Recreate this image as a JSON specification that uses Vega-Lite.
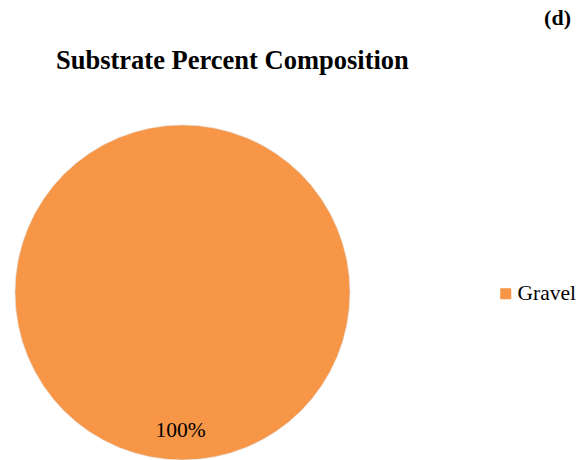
{
  "$schema": "https://vega.github.io/schema/vega-lite/v6.json",
  "background": "white",
  "padding": {"left": 13, "top": 7, "right": 5, "bottom": 0},
  "title": {
    "text": "(d)",
    "anchor": "end",
    "frame": "bounds",
    "font": "Liberation Serif",
    "fontSize": 22,
    "fontWeight": "bold",
    "color": "black",
    "dx": -5,
    "offset": 18
  },
  "config": {
    "view": {"stroke": null},
    "font": "Liberation Serif"
  },
  "vconcat": [
    {
      "width": 335,
      "height": 335,
      "title": {
        "text": "Substrate Percent Composition",
        "anchor": "start",
        "frame": "group",
        "dx": 41,
        "offset": 49,
        "font": "Liberation Serif",
        "fontSize": 26.5,
        "fontWeight": "bold",
        "color": "black"
      },
      "data": {"values": [{"substrate": "Gravel", "percent": 100, "label": "100%"}]},
      "layer": [
        {
          "mark": {"type": "arc", "stroke": "#e0e0e0", "strokeWidth": 0.6},
          "encoding": {
            "theta": {"field": "percent", "type": "quantitative", "stack": true},
            "color": {
              "field": "substrate",
              "type": "nominal",
              "scale": {"range": ["#F79646"]},
              "legend": {
                "title": null,
                "orient": "none",
                "legendX": 480,
                "legendY": 158,
                "symbolType": "square",
                "symbolSize": 121,
                "symbolStrokeWidth": 0,
                "labelFont": "Liberation Serif",
                "labelFontSize": 21.5,
                "labelColor": "black",
                "labelOffset": 1
              }
            }
          }
        },
        {
          "mark": {"type": "text", "radius": 138, "dx": -2, "font": "Liberation Serif", "fontSize": 21.5, "color": "black"},
          "encoding": {
            "theta": {"field": "percent", "type": "quantitative", "stack": true},
            "text": {"field": "label", "type": "nominal"}
          }
        }
      ]
    }
  ]
}
